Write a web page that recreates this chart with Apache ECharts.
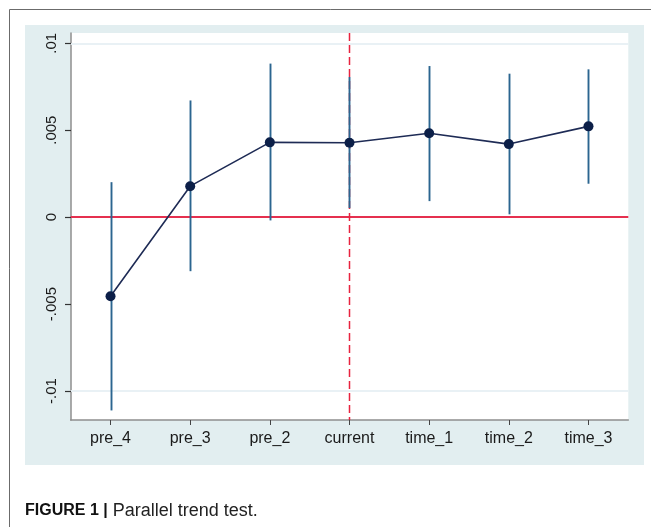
<!DOCTYPE html>
<html>
<head>
<meta charset="utf-8">
<script src="https://cdn.jsdelivr.net/npm/echarts@6/dist/echarts.min.js"></script>
<style>
html,body{margin:0;padding:0;background:#fff;}
#c{width:651px;height:527px;}
</style>
</head>
<body>
<div id="c"></div>
<script>
// ---- data ----
var categories = ['pre_4', 'pre_3', 'pre_2', 'current', 'time_1', 'time_2', 'time_3'];
var coef  = [-0.00455, 0.00178, 0.0043, 0.00428, 0.00482, 0.0042, 0.00522];
var upper = [0.00201, 0.00671, 0.00883, 0.00806, 0.00869, 0.00825, 0.0085];
var lower = [-0.01112, -0.00311, -0.00019, 0.00052, 0.00092, 0.00016, 0.00192];
var yTickValues = [-0.01, -0.005, 0, 0.005, 0.01];
var yTickLabels = ['-.01', '-.005', '0', '.005', '.01'];
var gridValues = [-0.01, -0.005, 0.005, 0.01];
var eventCategory = 'current';
var yMin = -0.01167, yMax = 0.01059;

var ciData = categories.map(function (c, i) { return [i, lower[i], upper[i]]; });
var eventIndex = categories.indexOf(eventCategory);
var FONT = "'Liberation Sans', Arial, Helvetica, sans-serif";
var GRID_LEFT = 70.7;

var baseGraphic = [
  {id: 'panel', type: 'rect', z: -10, shape: {x: 25, y: 25, width: 619, height: 440}, style: {fill: '#e2eef0'}},
  {id: 'frame', type: 'polyline', z: -5, shape: {points: [[9.5, 527], [9.5, 9.5], [651, 9.5]]}, style: {stroke: '#6b6b6b', lineWidth: 1, fill: null}},
  {id: 'caption', type: 'text', left: 25, top: 502, style: {
    text: '{b|FIGURE 1 |}{r| Parallel trend test.}',
    rich: {
      b: {fontFamily: FONT, fontSize: 16, fontWeight: 'bold', fill: '#111'},
      r: {fontFamily: FONT, fontSize: 18, fill: '#222'}
    }
  }}
];

var chart = echarts.init(document.getElementById('c'), null, {renderer: 'canvas'});
chart.setOption({
  animation: false,
  backgroundColor: '#ffffff',
  graphic: baseGraphic,
  grid: {left: GRID_LEFT, right: 22.7, top: 33, bottom: 107, show: true, backgroundColor: '#ffffff', borderWidth: 0, containLabel: false},
  xAxis: {
    type: 'category',
    data: categories,
    boundaryGap: true,
    axisLine: {show: true, onZero: false, lineStyle: {color: '#8e8e8e', width: 1.5}},
    axisTick: {show: true, alignWithLabel: true, length: 5, lineStyle: {color: '#444', width: 1}},
    axisLabel: {fontFamily: FONT, fontSize: 16, color: '#1a1a1a', margin: 11},
    splitLine: {show: false}
  },
  yAxis: {
    type: 'value',
    min: yMin, max: yMax,
    axisLine: {show: true, onZero: false, lineStyle: {color: '#8e8e8e', width: 1.5}},
    axisTick: {show: false},
    axisLabel: {
      customValues: yTickValues,
      rotate: 90, margin: 11,
      fontFamily: FONT, fontSize: 15, color: '#1a1a1a',
      formatter: function (v) {
        for (var i = 0; i < yTickValues.length; i++) {
          if (Math.abs(v - yTickValues[i]) < 1e-9) return yTickLabels[i];
        }
        return '';
      }
    },
    splitLine: {show: false}
  },
  series: [
    {
      type: 'line', data: [], z: 1,
      markLine: {
        z: 1,
        silent: true, symbol: 'none', label: {show: false},
        lineStyle: {color: '#e7f1f4', width: 1.5, type: 'solid'},
        data: gridValues.map(function (v) { return {yAxis: v}; })
      }
    },
    {
      type: 'line', data: [], z: 2,
      markLine: {
        z: 2,
        silent: true, symbol: 'none', label: {show: false},
        data: [
          {yAxis: 0, lineStyle: {color: '#e5304f', width: 1.8, type: 'solid'}}
        ]
      }
    },
    {
      // vertical dashed reference line at the event period
      type: 'custom', z: 4, silent: true,
      data: [[eventIndex]],
      renderItem: function (params, api) {
        var x = Math.round(api.coord([api.value(0), 0])[0]) + 0.5;
        var yTop = api.coord([api.value(0), yMax])[1];
        var yBot = api.coord([api.value(0), yMin])[1];
        return {type: 'line', shape: {x1: x, y1: yTop, x2: x, y2: yBot},
          style: {stroke: '#e8233f', lineWidth: 1.5, lineDash: [8, 4]}};
      }
    },
    {
      type: 'custom', z: 10,
      data: ciData,
      renderItem: function (params, api) {
        var p1 = api.coord([api.value(0), api.value(1)]);
        var p2 = api.coord([api.value(0), api.value(2)]);
        var x = Math.round(p1[0]) + 0.5;
        return {type: 'line', shape: {x1: x, y1: p1[1], x2: x, y2: p2[1]},
          style: {stroke: '#2b6590', lineWidth: 1.9}};
      }
    },
    {
      type: 'line', z: 11,
      data: coef,
      symbol: 'circle', symbolSize: 10,
      lineStyle: {color: '#1e2b55', width: 1.6},
      itemStyle: {color: '#0c1f48'}
    }
  ]
});

// y-axis tick marks, positioned through the axis scale
var tickGraphic = yTickValues.map(function (v, i) {
  var y = Math.round(chart.convertToPixel({yAxisIndex: 0}, v)) + 0.5;
  var x0 = Math.round(GRID_LEFT);
  return {id: 'ytick' + i, type: 'line', z: 50,
    shape: {x1: x0 - 6, y1: y, x2: x0, y2: y},
    style: {stroke: '#333', lineWidth: 1.2}};
});
chart.setOption({graphic: baseGraphic.concat(tickGraphic)});
</script>
</body>
</html>
